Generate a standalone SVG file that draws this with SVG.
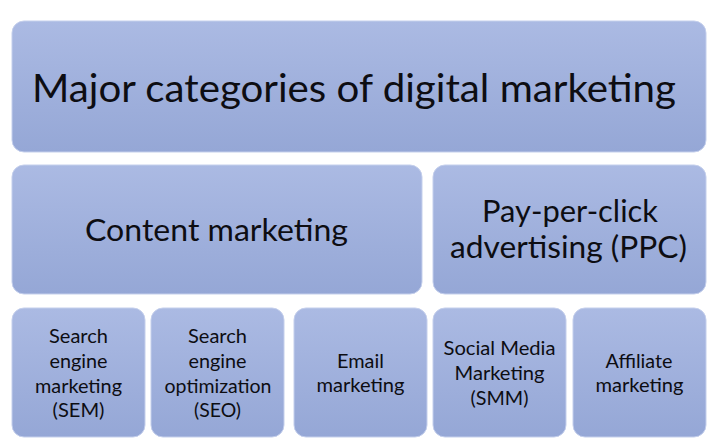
<svg xmlns="http://www.w3.org/2000/svg" width="724" height="443" viewBox="0 0 724 443">
<defs>
<linearGradient id="g" x1="0" y1="0" x2="0" y2="1">
<stop offset="0" stop-color="#abbae3"/>
<stop offset="1" stop-color="#95a7d6"/>
</linearGradient>
<style>
.box{fill:url(#g);stroke:#c4cfec;stroke-width:1}
text{font-family:Lato,"Open Sans","Liberation Sans",sans-serif;fill:#0d0d12;text-anchor:middle}
.t1{font-size:39px}
.t2{font-size:30px}
.t3{font-size:18.5px}
</style>
</defs>
<rect width="724" height="443" fill="#ffffff"/>
<g id="connectors"></g>
<g id="title">
<rect class="box" x="12" y="21" width="694" height="131" rx="12"/>
<text class="t1" x="354" y="102" textLength="644" lengthAdjust="spacingAndGlyphs">Major categories of digital marketing</text>
</g>
<g id="content">
<rect class="box" x="12" y="165" width="410" height="129" rx="12"/>
<text class="t2" x="216.5" y="241" textLength="263" lengthAdjust="spacingAndGlyphs">Content marketing</text>
</g>
<g id="ppc">
<rect class="box" x="433" y="165" width="273" height="129" rx="12"/>
<text class="t2" x="570" y="222" textLength="176" lengthAdjust="spacingAndGlyphs">Pay-per-click</text>
<text class="t2" x="568.5" y="258" textLength="237" lengthAdjust="spacingAndGlyphs">advertising (PPC)</text>
</g>
<g id="sem">
<rect class="box" x="12" y="308" width="133" height="129" rx="12"/>
<text class="t3" x="78.5" y="343" textLength="59" lengthAdjust="spacingAndGlyphs">Search</text>
<text class="t3" x="78.5" y="368" textLength="58" lengthAdjust="spacingAndGlyphs">engine</text>
<text class="t3" x="78.5" y="393" textLength="87" lengthAdjust="spacingAndGlyphs">marketing</text>
<text class="t3" x="78.5" y="417" textLength="52" lengthAdjust="spacingAndGlyphs">(SEM)</text>
</g>
<g id="seo">
<rect class="box" x="151" y="308" width="133" height="129" rx="12"/>
<text class="t3" x="217.5" y="343" textLength="59" lengthAdjust="spacingAndGlyphs">Search</text>
<text class="t3" x="217.5" y="368" textLength="58" lengthAdjust="spacingAndGlyphs">engine</text>
<text class="t3" x="218" y="393" textLength="107" lengthAdjust="spacingAndGlyphs">optimization</text>
<text class="t3" x="217.5" y="417" textLength="47" lengthAdjust="spacingAndGlyphs">(SEO)</text>
</g>
<g id="email">
<rect class="box" x="294" y="308" width="133" height="129" rx="12"/>
<text class="t3" x="360.5" y="368" textLength="47" lengthAdjust="spacingAndGlyphs">Email</text>
<text class="t3" x="360.5" y="392" textLength="88" lengthAdjust="spacingAndGlyphs">marketing</text>
</g>
<g id="smm">
<rect class="box" x="433" y="308" width="133" height="129" rx="12"/>
<text class="t3" x="499.5" y="355" textLength="112" lengthAdjust="spacingAndGlyphs">Social Media</text>
<text class="t3" x="499.5" y="380" textLength="90" lengthAdjust="spacingAndGlyphs">Marketing</text>
<text class="t3" x="499.5" y="405" textLength="58" lengthAdjust="spacingAndGlyphs">(SMM)</text>
</g>
<g id="affiliate">
<rect class="box" x="573" y="308" width="133" height="129" rx="12"/>
<text class="t3" x="639" y="368" textLength="67" lengthAdjust="spacingAndGlyphs">Affiliate</text>
<text class="t3" x="639.5" y="392" textLength="88" lengthAdjust="spacingAndGlyphs">marketing</text>
</g>
</svg>
